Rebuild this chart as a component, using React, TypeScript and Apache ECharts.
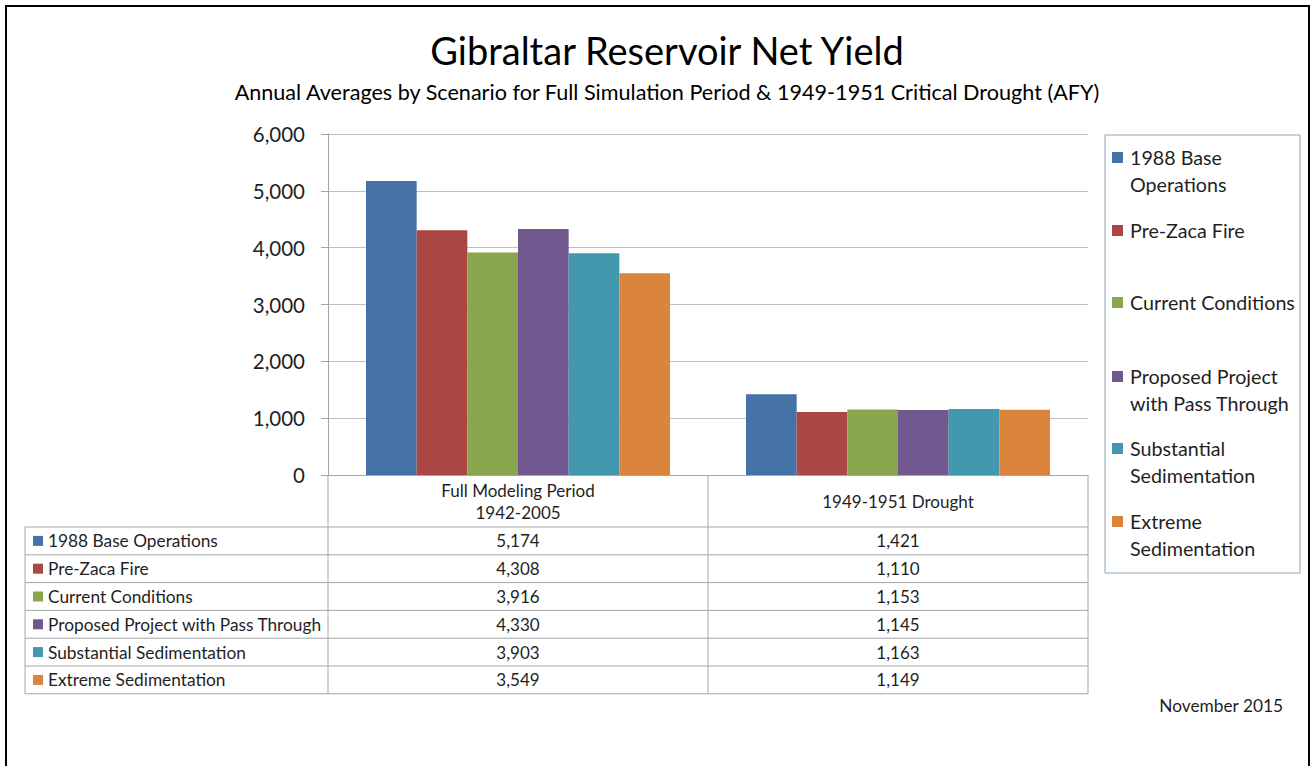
import React, { useEffect, useRef } from "react";
import * as echarts from "echarts";

const categories = ["Full Modeling Period\n1942-2005", "1949-1951 Drought"];
const seriesNames = [
  "1988 Base Operations",
  "Pre-Zaca Fire",
  "Current Conditions",
  "Proposed Project with Pass Through",
  "Substantial Sedimentation",
  "Extreme Sedimentation",
];
const legendLines = [
  ["1988 Base", "Operations"],
  ["Pre-Zaca Fire"],
  ["Current Conditions"],
  ["Proposed Project", "with Pass Through"],
  ["Substantial", "Sedimentation"],
  ["Extreme", "Sedimentation"],
];
const fullPeriodValues = [5174, 4308, 3916, 4330, 3903, 3549];
const droughtValues = [1421, 1110, 1153, 1145, 1163, 1149];
const yMin = 0;
const yMax = 6000;
const yInterval = 1000;
const titleText = "Gibraltar Reservoir Net Yield";
const subtitleText =
  "Annual Averages by Scenario for Full Simulation Period & 1949-1951 Critical Drought (AFY)";
const dateText = "November 2015";

const colors = ["#4572A7", "#AA4643", "#89A54E", "#71588F", "#4198AF", "#DB843D"];
const FONT = "Lato, 'Noto Sans', sans-serif";
const TEXT = "#1f1f1f";
const LINE = "#A6A6A6";

const GRID = { left: 328, top: 134, width: 760, height: 341 };
const TABLE_LEFT = 25;
const HEADER_BOTTOM = 527;
const ROW_H = 27.8;
const LEGEND_Y = [157, 230, 302, 376, 448, 521];

const fmt = (v: number) => v.toLocaleString("en-US");

export default function App() {
  const ref = useRef<HTMLDivElement>(null);
  useEffect(() => {
    if (!ref.current) return;
    const chart = echarts.init(ref.current, null, { renderer: "svg" });
    const valuesByCat = [fullPeriodValues, droughtValues];
    chart.setOption({
      animation: false,
      backgroundColor: "#ffffff",
      color: colors,
      grid: { ...GRID, containLabel: false },
      xAxis: {
        type: "category",
        data: categories,
        axisLine: { show: true, lineStyle: { color: LINE, width: 1 } },
        axisTick: { show: false },
        axisLabel: {
          margin: 26,
          verticalAlign: "middle",
          fontFamily: FONT,
          fontSize: 17,
          lineHeight: 22,
          color: TEXT,
        },
        splitLine: { show: false },
      },
      yAxis: {
        type: "value",
        min: yMin,
        max: yMax,
        interval: yInterval,
        axisLine: { show: true, lineStyle: { color: LINE, width: 1 } },
        axisTick: { show: true, length: 7, lineStyle: { color: LINE } },
        axisLabel: {
          margin: 23,
          fontFamily: FONT,
          fontSize: 20.5,
          color: TEXT,
          formatter: (v: number) => fmt(v),
        },
        splitLine: { show: true, lineStyle: { color: "#BFBFBF", width: 1 } },
      },
      series: seriesNames.map((name, i) => ({
        name,
        type: "bar",
        data: valuesByCat.map((vals) => vals[i]),
        barGap: "0%",
        barCategoryGap: "20%",
        itemStyle: { color: colors[i] },
      })),
    });

    const centers = categories.map((_, ci) => chart.convertToPixel({ xAxisIndex: 0 }, ci) as number);
    const band = GRID.width / categories.length;
    const rowsBottom = HEADER_BOTTOM + ROW_H * seriesNames.length;
    const axisBottom = GRID.top + GRID.height;
    const elements: any[] = [];

    elements.push({
      type: "rect",
      shape: { x: 6, y: 6, width: 1303, height: 790 },
      style: { fill: "none", stroke: "#000000", lineWidth: 2 },
      silent: true,
    });
    elements.push({
      type: "text",
      x: 667,
      y: 50,
      style: { text: titleText, fontFamily: FONT, fontSize: 38, fill: "#000000", align: "center", verticalAlign: "middle" },
    });
    elements.push({
      type: "text",
      x: 667,
      y: 92,
      style: { text: subtitleText, fontFamily: FONT, fontSize: 21.6, fill: "#000000", align: "center", verticalAlign: "middle" },
    });

    const vx = [GRID.left, ...centers.map((c) => c + band / 2)];
    vx.forEach((x) => {
      elements.push({
        type: "line",
        shape: { x1: x, y1: axisBottom, x2: x, y2: rowsBottom },
        style: { stroke: LINE, lineWidth: 1 },
        silent: true,
      });
    });
    elements.push({
      type: "line",
      shape: { x1: TABLE_LEFT, y1: HEADER_BOTTOM, x2: TABLE_LEFT, y2: rowsBottom },
      style: { stroke: LINE, lineWidth: 1 },
      silent: true,
    });
    for (let r = 0; r <= seriesNames.length; r++) {
      const y = HEADER_BOTTOM + ROW_H * r;
      elements.push({
        type: "line",
        shape: { x1: TABLE_LEFT, y1: y, x2: GRID.left + GRID.width, y2: y },
        style: { stroke: LINE, lineWidth: 1 },
        silent: true,
      });
    }
    seriesNames.forEach((name, i) => {
      const cy = HEADER_BOTTOM + ROW_H * i + ROW_H / 2;
      elements.push({
        type: "rect",
        shape: { x: 33, y: cy - 5, width: 10, height: 10 },
        style: { fill: colors[i] },
      });
      elements.push({
        type: "text",
        x: 48,
        y: cy,
        style: { text: name, fontFamily: FONT, fontSize: 17.3, fill: TEXT, align: "left", verticalAlign: "middle" },
      });
      valuesByCat.forEach((vals, ci) => {
        elements.push({
          type: "text",
          x: centers[ci],
          y: cy,
          style: { text: fmt(vals[i]), fontFamily: FONT, fontSize: 17, fill: TEXT, align: "center", verticalAlign: "middle" },
        });
      });
    });

    elements.push({
      type: "rect",
      shape: { x: 1105, y: 135, width: 195, height: 438 },
      style: { fill: "none", stroke: "#8AA4B8", lineWidth: 1 },
      silent: true,
    });
    legendLines.forEach((lines, i) => {
      const y0 = LEGEND_Y[i];
      elements.push({
        type: "rect",
        shape: { x: 1112, y: y0 - 5, width: 11, height: 11 },
        style: { fill: colors[i] },
      });
      lines.forEach((ln, k) => {
        elements.push({
          type: "text",
          x: 1130,
          y: y0 + k * 27,
          style: { text: ln, fontFamily: FONT, fontSize: 19.7, fill: TEXT, align: "left", verticalAlign: "middle" },
        });
      });
    });

    elements.push({
      type: "text",
      x: 1283,
      y: 705,
      style: { text: dateText, fontFamily: FONT, fontSize: 17.3, fill: TEXT, align: "right", verticalAlign: "middle" },
    });

    chart.setOption({ graphic: { elements } });
    return () => chart.dispose();
  }, []);

  return (
    <div
      ref={ref}
      style={{ position: "absolute", left: 0, top: 0, width: 1315, height: 766, background: "#fff" }}
    />
  );
}
